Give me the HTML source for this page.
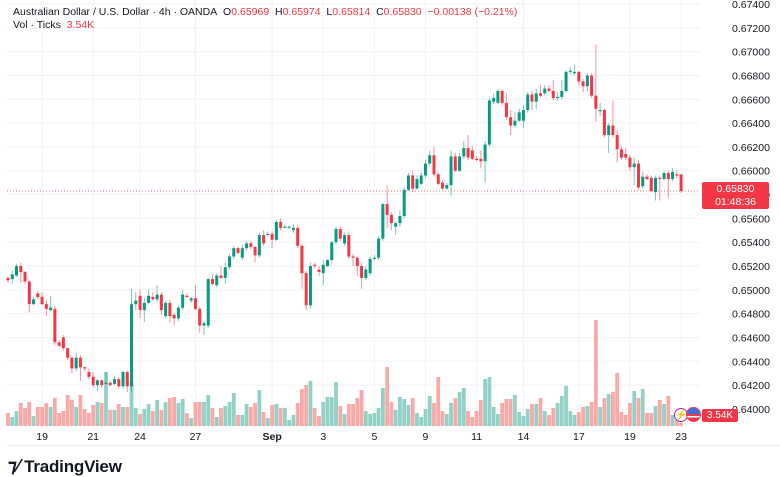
<!DOCTYPE html>
<html><head><meta charset="utf-8"><style>
html,body{margin:0;padding:0;background:#fff;width:780px;height:470px;overflow:hidden;font-family:"Liberation Sans",sans-serif}
svg{position:absolute;left:0;top:0}
text{font-family:"Liberation Sans",sans-serif}
</style></head><body>
<svg id="chart" width="780" height="470"></svg>
<script>
const opens=[.6510,.6509,.6512,.6520,.6515,.6507,.6488,.6497,.6494,.6488,.6483,.6484,.6456,.6460,.6451,.6443,.6434,.6443,.6435,.6431,.6427,.6420,.6424,.6421,.6422,.6421,.6425,.6419,.6431,.6419,.6488,.6495,.6483,.6489,.6494,.6492,.6496,.6478,.6489,.6479,.6476,.6485,.6495,.6491,.6493,.6484,.6470,.6470,.6509,.6504,.6512,.6510,.6519,.6528,.6535,.6527,.6535,.6539,.6536,.6529,.6546,.6546,.6547,.6542,.6557,.6552,.6553,.6550,.6552,.6537,.6514,.6487,.6521,.6517,.6514,.6520,.6525,.6540,.6551,.6539,.6546,.6528,.6527,.6520,.6510,.6514,.6526,.6527,.6543,.6572,.6563,.6553,.6556,.6562,.6584,.6596,.6585,.6589,.6596,.6606,.6613,.6597,.6590,.6585,.6588,.6612,.6600,.6612,.6619,.6617,.6610,.6610,.6608,.6622,.6658,.6657,.6667,.6657,.6645,.6638,.6642,.6642,.6651,.6664,.6658,.6665,.6665,.6669,.6667,.6661,.6662,.6667,.6683,.6682,.6683,.6675,.6671,.6680,.6663,.6650,.6651,.6630,.6638,.6630,.6618,.6614,.6611,.6603,.6606,.6587,.6595,.6594,.6582,.6594,.6593,.6598,.6593,.6597,.65969];
const closes=[.6508,.6513,.6520,.6515,.6507,.6488,.6492,.6494,.6488,.6484,.6485,.6456,.6453,.6451,.6443,.6434,.6443,.6435,.6434,.6427,.6420,.6424,.6420,.6422,.6420,.6425,.6419,.6431,.6419,.6488,.6491,.6483,.6489,.6495,.6492,.6496,.6483,.6489,.6478,.6476,.6485,.6496,.6494,.6493,.6484,.6470,.6472,.6509,.6505,.6512,.6510,.6519,.6528,.6535,.6531,.6535,.6539,.6536,.6529,.6546,.6539,.6547,.6542,.6557,.6552,.6553,.6553,.6552,.6537,.6514,.6487,.6520,.6520,.6515,.6521,.6525,.6540,.6551,.6543,.6546,.6528,.6527,.6520,.6510,.6517,.6526,.6527,.6543,.6572,.6563,.6556,.6556,.6562,.6584,.6596,.6585,.6593,.6596,.6606,.6613,.6597,.6589,.6585,.6588,.6612,.6600,.6612,.6619,.6611,.6610,.6609,.6608,.6622,.6659,.6661,.6667,.6657,.6645,.6638,.6642,.6649,.6651,.6664,.6658,.6665,.6663,.6669,.6667,.6661,.6662,.6667,.6683,.6684,.6683,.6675,.6671,.6680,.6663,.6652,.6651,.6630,.6638,.6630,.6618,.6611,.6611,.6603,.6606,.6586,.6595,.6593,.6583,.6594,.6593,.6598,.6593,.6599,.6596,.6583];
const highs=[.6512,.6516,.6522,.6523,.6516,.6508,.6494,.6499,.6498,.6491,.6495,.6486,.6458,.6462,.6452,.6445,.6447,.6445,.6436,.6434,.6431,.6425,.6425,.6431,.6424,.6428,.6427,.6432,.6432,.6501,.6498,.6500,.6493,.6500,.6498,.6504,.6498,.6491,.6491,.6481,.6487,.6500,.6497,.6494,.6504,.6486,.6474,.6510,.6513,.6514,.6520,.6523,.6530,.6537,.6536,.6538,.6541,.6541,.6537,.6548,.6550,.6549,.6549,.6558,.6560,.6555,.6554,.6555,.6554,.6539,.6516,.6523,.6523,.6520,.6525,.6526,.6541,.6553,.6553,.6548,.6548,.6530,.6528,.6523,.6520,.6528,.6529,.6545,.6573,.6588,.6565,.6558,.6567,.6586,.6598,.6600,.6596,.6599,.6609,.6617,.6620,.6599,.6592,.6590,.6617,.6615,.6615,.6625,.6630,.6621,.6612,.6617,.6625,.6661,.6665,.6668,.6668,.6665,.6651,.6649,.6652,.6655,.6666,.6667,.6669,.6672,.6672,.6672,.6676,.6666,.6676,.6684,.6687,.6689,.6684,.6677,.6682,.6682,.6706,.6657,.6652,.6640,.6659,.6634,.6621,.6619,.6613,.6611,.6609,.6599,.6597,.6596,.6596,.6596,.6600,.6600,.6602,.6600,.65974];
const lows=[.6506,.6505,.6511,.6506,.6505,.6481,.6487,.6492,.6487,.6478,.6482,.6454,.6452,.6449,.6441,.6430,.6432,.6424,.6432,.6425,.6418,.6415,.6418,.6420,.6419,.6420,.6417,.6417,.6414,.6415,.6483,.6476,.6473,.6488,.6491,.6490,.6479,.6476,.6473,.6470,.6474,.6483,.6493,.6489,.6483,.6464,.6462,.6468,.6504,.6502,.6509,.6505,.6517,.6526,.6530,.6525,.6533,.6534,.6523,.6527,.6537,.6544,.6535,.6541,.6550,.6552,.6551,.6548,.6535,.6501,.6483,.6484,.6518,.6512,.6504,.6519,.6523,.6538,.6541,.6537,.6526,.6520,.6512,.6501,.6508,.6512,.6525,.6525,.6541,.6552,.6550,.6546,.6553,.6560,.6583,.6582,.6584,.6588,.6594,.6604,.6595,.6588,.6584,.6584,.6579,.6599,.6599,.6610,.6609,.6609,.6608,.6602,.6590,.6620,.6656,.6656,.6655,.6643,.6630,.6636,.6641,.6636,.6649,.6651,.6652,.6662,.6663,.6666,.6659,.6659,.6660,.6666,.6681,.6680,.6672,.6666,.6667,.6661,.6641,.6646,.6628,.6615,.6628,.6607,.6609,.6609,.6600,.6588,.6584,.6585,.6592,.6582,.6575,.6575,.6592,.6577,.6591,.6594,.65814];
const volumes=[13,9,15,23,18,24,10,19,19,23,19,28,13,15,31,26,19,31,17,13,21,24,23,54,16,16,22,19,19,45,18,12,17,22,15,26,16,24,28,29,23,27,13,8,24,24,24,31,18,9,18,20,24,33,11,11,22,19,23,36,14,8,21,22,18,18,6,11,23,37,41,45,18,10,24,29,29,44,20,12,22,22,28,36,15,12,13,18,38,59,24,16,29,27,21,28,13,9,17,30,23,49,15,12,23,28,34,38,15,9,15,26,47,49,19,12,23,27,27,31,14,10,17,22,22,28,15,11,18,23,30,40,15,11,14,19,20,24,106,19,28,32,34,53,14,11,23,35,28,37,13,13,20,26,22,30,11,6,3];
const priceTicks=[0.674,0.672,0.670,0.668,0.666,0.664,0.662,0.660,0.658,0.656,0.654,0.652,0.650,0.648,0.646,0.644,0.642,0.640];
const dateLabels=["19","21","24","27","Sep","3","5","9","11","14","17","19","23"];
const dateIndex=[8,20,31,44,62,74,86,98,110,121,134,146,158];

const NS="http://www.w3.org/2000/svg";
const svg=document.getElementById('chart');
function el(tag,attrs,parent){const e=document.createElementNS(NS,tag);for(const k in attrs)e.setAttribute(k,attrs[k]);(parent||svg).appendChild(e);return e;}
const y=p=>4+(0.674-p)/0.002*23.82;
const x=i=>8+i*4.26;
const vy=v=>426-v;
const GREEN="#089981",RED="#f23645";

// grid
const grid=el('g',{});


priceTicks.forEach(t=>{const l=el('line',{x1:7,x2:700,y1:y(t),y2:y(t),stroke:"#f2f2f4","stroke-width":1},grid);});
dateIndex.forEach(i=>{el('line',{x1:x(i),x2:x(i),y1:0,y2:428,stroke:"#f2f2f4","stroke-width":1},grid);});

// volume
const vg=el('g',{});


volumes.forEach((v,i)=>{
  const up=closes[i]>=opens[i];
  const r=el('rect',{x:x(i)-1.9,y:vy(v),width:3.8,height:v,fill:up?"#92d2c6":"#f8a9a8"},vg);
  
  
});

// candles
const cg=el('g',{});


opens.forEach((o,i)=>{
  const c=closes[i],up=c>=o,col=up?GREEN:RED;
  const g=el('g',{},cg);
  
  
  el('line',{x1:x(i),x2:x(i),y1:y(highs[i]),y2:y(lows[i]),stroke:col,"stroke-width":1,opacity:0.55},g);
  const top=y(Math.max(o,c)),bot=y(Math.min(o,c));
  el('rect',{x:x(i)-1.5,y:top,width:3,height:Math.max(1,bot-top),fill:col},g);
});

// last price line
const lp=el('line',{x1:7,x2:700,y1:y(closes[closes.length-1]),y2:y(closes[closes.length-1]),stroke:RED,"stroke-width":1,"stroke-dasharray":"1,2",opacity:0.7});



// price axis labels
const pa=el('g',{});


priceTicks.forEach(t=>{
  const tx=el('text',{x:732,y:y(t)+4,"font-size":"10.5",fill:"#131722"},pa);
  tx.textContent=t.toFixed(5);
});
// time axis
const ta=el('g',{});


dateLabels.forEach((d,i)=>{
  const tx=el('text',{x:x(dateIndex[i]),y:440,"font-size":"10.5",fill:"#131722","text-anchor":"middle","font-weight":d==="Sep"?"bold":"normal"},ta);
  tx.textContent=d;
});
el('line',{x1:7,x2:780,y1:445.5,y2:445.5,stroke:"#eceef2","stroke-width":1});
</script>
<div style="position:absolute;left:702px;top:182px;width:67px;height:27px;background:#f23645;border-radius:2px;color:#fff;font-size:10.5px;line-height:13px;text-align:center;padding-top:1px;box-sizing:border-box">0.65830<br>01:48:36</div>
<div style="position:absolute;left:702px;top:409px;width:36px;height:13px;background:#f23645;border-radius:2px;color:#fff;font-size:10px;line-height:13px;text-align:center">3.54K</div>
<div style="position:absolute;left:674px;top:408px;width:14px;height:14px;border:1.5px solid #9c27b0;border-radius:50%;background:#fff;color:#9c27b0;font-size:10px;line-height:14px;text-align:center;box-sizing:border-box">⚡</div>
<div style="position:absolute;left:686px;top:407px;width:15px;height:15px;border:1.5px solid #f23645;border-radius:50%;background:linear-gradient(#3a6fd8 0 45%,#f23645 45% 60%,#fff 60% 75%,#f23645 75%);box-sizing:border-box"></div>
<div style="position:absolute;left:13px;top:6px;font-size:10.5px;color:#131722;white-space:nowrap">Australian Dollar / U.S. Dollar · 4h · OANDA&nbsp; O<span style="color:#f23645">0.65969</span>&nbsp; H<span style="color:#f23645">0.65974</span>&nbsp; L<span style="color:#f23645">0.65814</span>&nbsp; C<span style="color:#f23645">0.65830</span>&nbsp; <span style="color:#f23645">−0.00138 (−0.21%)</span></div>
<div style="position:absolute;left:13px;top:19px;font-size:10.5px;color:#131722;white-space:nowrap">Vol · Ticks&nbsp; <span style="color:#f23645">3.54K</span></div>
<div style="position:absolute;left:8px;top:456px;font-size:17px;font-weight:bold;color:#131722;white-space:nowrap;letter-spacing:-0.2px"><span style="font-size:18px">⁊⁄</span> TradingView</div>
</body></html>
